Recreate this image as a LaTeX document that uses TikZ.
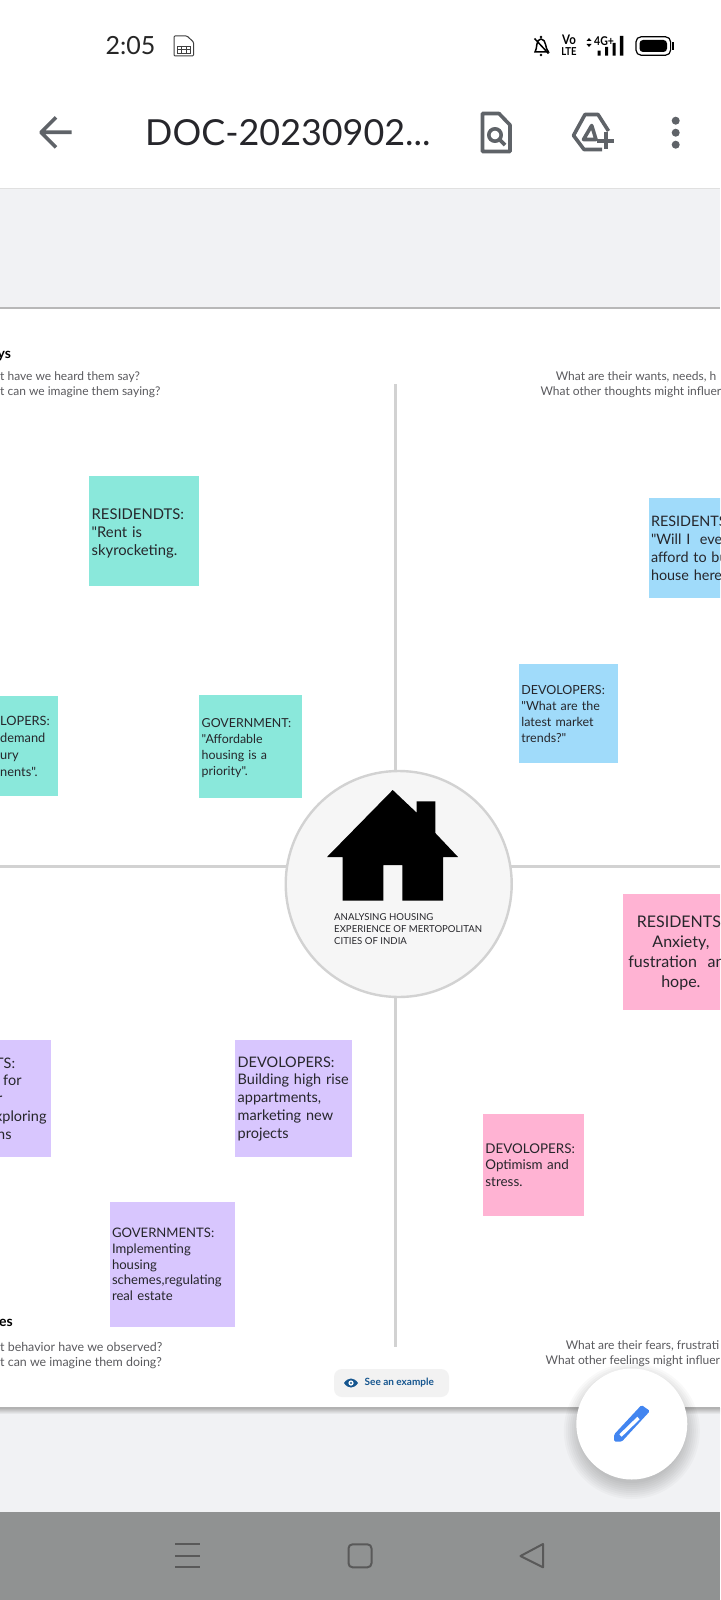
\documentclass[tikz,border=0pt]{standalone}
\usepackage{fontspec}
\setmainfont{Lato}
\newfontfamily\latofont{Lato}
\usetikzlibrary{positioning,calc}
\definecolor{pagebg}{HTML}{F1F2F4}
\definecolor{navbg}{HTML}{909292}
\definecolor{icongray}{HTML}{5F6368}
\definecolor{ink}{HTML}{26262B}
\definecolor{hint}{HTML}{5A5A5E}
\definecolor{axisgray}{HTML}{D2D2D2}
\definecolor{notegreen}{HTML}{8AE8DB}
\definecolor{noteblue}{HTML}{A0DBFA}
\definecolor{notepink}{HTML}{FFB3D3}
\definecolor{notepurple}{HTML}{D8C6FE}
\definecolor{penblue}{HTML}{4285F0}
\definecolor{linkblue}{HTML}{16568F}
\newcommand{\px}[2]{\latofont\fontsize{#1}{#2}\selectfont}
\newcommand{\tallglyph}[1]{\scalebox{1}[1.15]{#1}}

\begin{document}
\begin{tikzpicture}[
  x=1pt, y=-1pt,
  says/.style={rectangle, fill=notegreen, anchor=north west, inner xsep=2.5pt, inner ysep=0pt, align=left, text=ink},
  thinks/.style={rectangle, fill=noteblue, anchor=north west, inner xsep=2.5pt, inner ysep=0pt, align=left, text=ink},
  feels/.style={rectangle, fill=notepink, anchor=north west, inner xsep=2.5pt, inner ysep=0pt, align=left, text=ink},
  does/.style={rectangle, fill=notepurple, anchor=north west, inner xsep=2.5pt, inner ysep=0pt, align=left, text=ink},
  hinttext/.style={anchor=west, inner sep=0pt, text=hint, font=\px{12}{14}},
  headtext/.style={anchor=west, inner sep=0pt, text=black, font=\bfseries\px{14}{16}},
  axis/.style={line width=3pt, axisgray},
  icon/.style={line width=3.6pt, icongray, line join=round},
  navicon/.style={line width=2pt, black!65, line join=round}
]
\useasboundingbox (0,0) rectangle (720,1600);
\clip (0,0) rectangle (720,1600);

% Screen bands
\fill[white] (0,0) rectangle (720,1600);
\fill[pagebg] (0,189) rectangle (720,1512);
\fill[navbg] (0,1512) rectangle (720,1600);
\fill[white] (0,308) rectangle (720,1408);
\draw[black!28, line width=1.2pt] (0,308) -- (720,308);
\draw[black!12, line width=1pt] (0,188.5) -- (720,188.5);
\shade[top color=black!30, bottom color=pagebg] (0,1408) rectangle (720,1414);
\draw[black!30, line width=1.4pt] (0,1408) -- (720,1408);

% Status bar
\node[anchor=west, inner sep=0pt, font=\px{25}{28}, text=black!85] (clock) at (105.5,46) {2:05};
\draw[line width=1pt, black!75, rounded corners=1pt] (174,36) -- (187,36) -- (193.5,42) -- (193.5,56) -- (174,56) -- cycle;
\draw[line width=.7pt, black!75] (177,46) rectangle (190,53) (177,49.5) -- (190,49.5) (181.5,46) -- (181.5,53) (186,46) -- (186,53);
\draw[line width=1.5pt, black] (535,52) .. controls (537.5,49) and (535.5,39) .. (541,39) .. controls (546.5,39) and (545,49) .. (548.5,52) -- cycle;
\draw[line width=1.5pt, black] (534.5,38.5) -- (548.5,53.5);
\fill[black] (541,37) circle (1.4) (541,55) circle (1.4);
\node[inner sep=0pt, font=\bfseries\px{11.5}{12}] (vo) at (569,40) {\tallglyph{Vo}};
\node[inner sep=0pt, font=\bfseries\px{9.5}{10}] (lte) at (569,51.5) {\tallglyph{LTE}};
\fill[black] (586.5,41) -- (589,38) -- (591.5,41) -- cycle (586.5,44) -- (589,47) -- (591.5,44) -- cycle;
\node[anchor=west, inner sep=0pt, font=\bfseries\px{10.5}{11}] (net) at (594,41) {\tallglyph{4G+}};
\fill[black] (597.5,50.7) rectangle (600.5,55.7) (605.2,47) rectangle (608.2,55.7) (612.5,43) rectangle (615.5,55.7) (619.8,36) rectangle (623.3,55.7);
\draw[line width=1.2pt, black, rounded corners=5pt] (636,36.8) rectangle (670.6,55.2);
\fill[black, rounded corners=3.5pt] (639.5,40) rectangle (667,52);
\fill[black] (672,42) rectangle (674,50);

% Title bar
\draw[icon] (71.7,132.3) -- (41,132.3) (56,117.3) -- (41,132.3) -- (56,147.3);
\node[anchor=west, inner sep=0pt, font=\px{35.9}{38}, text=ink] (title) at (145,133) {DOC-20230902...};
\draw[icon] (499,113.5) -- (482.5,113.5) -- (482.5,151.5) -- (510,151.5) -- (510,125) -- cycle;
\draw[icon] (495,135) circle (6.2) (499.5,139.5) -- (505,145);
\draw[icon] (608.5,131) -- (598,114.5) -- (585,114.5) -- (573.5,135.5) -- (584,149.5) -- (602,149.5);
\draw[icon] (591.7,125.5) -- (583.5,139.5) -- (596,139.5) -- cycle;
\draw[icon] (597,140.7) -- (614,140.7) (605.7,132) -- (605.7,149);
\fill[icongray] (675.7,120.7) circle (4) (675.7,132.7) circle (4) (675.7,144.7) circle (4);

% Quadrant axes
\coordinate (top) at (395.6,384);
\coordinate (bottom) at (395.6,1347);
\coordinate (west) at (0,866);
\coordinate (east) at (720,866);
\draw[axis] (top) -- (bottom);
\draw[axis] (west) -- (east);

% Centre circle and house
\node[circle, draw=axisgray, fill=black!3.5, line width=2.4pt, minimum size=226pt, inner sep=0pt] (hub) at (398.7,884) {};
\fill[black] (392.7,790) -- (416.7,812.7) -- (416.7,801.3) -- (435.3,801.3) -- (435.3,833) -- (458,857) -- (443,857) -- (443,900.7) -- (402.3,900.7) -- (402.3,865) -- (383.3,865) -- (383.3,900.7) -- (342.7,900.7) -- (342.7,857) -- (327,857) -- cycle;
\node[anchor=north west, inner sep=0pt, align=left, text=ink, font=\px{9.6}{12}] (hubtext) at (334,913) {ANALYSING HOUSING\\EXPERIENCE OF MERTOPOLITAN\\CITIES OF INDIA};

% Says (top left)
\node[headtext] (sayshead) at (-2.5,356) {ys};
\node[hinttext] (says1) at (0,377) {t have we heard them say?};
\node[hinttext] (says2) at (0,392) {t can we imagine them saying?};
\node[says, text width=105pt, minimum height=110.5pt, font=\px{14.8}{18}] (sayres) at (89,475.5) {\rule{0pt}{15pt}RESIDENDTS:\\"Rent is\\skyrocketing.};
\node[says, text width=55.2pt, minimum height=100pt, font=\px{12.8}{17}] (saydev) at (-2.5,696) {LOPERS:\\demand\\ury\\nents".};
\node[says, text width=97.7pt, minimum height=102.7pt, font=\px{12.4}{16}] (saygov) at (199,695) {\rule{0pt}{13pt}GOVERNMENT:\\"Affordable\\housing is a\\priority".};

% Thinks (top right)
\node[hinttext] (thinks1) at (555.6,377) {What are their wants, needs, h};
\node[hinttext] (thinks2) at (540.4,392) {What other thoughts might influer};
\node[thinks, text width=100pt, minimum height=99.7pt, font=\px{14.4}{18}] (thinkres) at (648.3,498) {RESIDENTS\\"Will I\ \ ever\\afford to bu\\house here};
\node[thinks, text width=94pt, minimum height=99pt, font=\px{12.5}{16}] (thinkdev) at (518.7,664) {DEVOLOPERS:\\"What are the\\latest market\\trends?"};

% Feels (bottom right)
\node[feels, align=center, text width=111pt, minimum height=116pt, font=\px{16}{20}] (feelres) at (622.7,893.3) {\rule{0pt}{14pt}RESIDENTS:\\Anxiety,\\fustration\ \ and\\hope.};
\node[feels, text width=96pt, minimum height=101.5pt, font=\px{13.4}{16.5}] (feeldev) at (482.7,1114.2) {DEVOLOPERS:\\Optimism and\\stress.};
\node[hinttext] (feels1) at (565.6,1346) {What are their fears, frustrati};
\node[hinttext] (feels2) at (545.5,1361) {What other feelings might influer};

% Does (bottom left)
\node[does, text width=48.2pt, minimum height=116.7pt, font=\px{14.5}{17.8}] (dores) at (-2.5,1040) {\hspace*{-5pt}TS:\\\hspace*{3pt}for\\\hspace*{-3pt}r\\\hspace*{-5pt}xploring\\\hspace*{-3pt}ns};
\node[does, text width=111.7pt, minimum height=117pt, font=\px{14.5}{17.8}] (dodev) at (235,1040) {DEVOLOPERS:\\Building high rise\\appartments,\\marketing new\\projects};
\node[does, text width=120.3pt, minimum height=125pt, font=\px{13.1}{15.7}] (dogov) at (109.3,1201.7) {GOVERNMENTS:\\Implementing\\housing\\schemes,regulating\\real estate};
\node[headtext] (doeshead) at (-1,1322.7) {es};
\node[hinttext, font=\px{12.4}{14}] (does1) at (0,1347) {t behavior have we observed?};
\node[hinttext, font=\px{12.4}{14}] (does2) at (0,1363) {t can we imagine them doing?};

% Example button
\fill[black!5, rounded corners=8pt] (334,1369) rectangle (449,1397);
\node[anchor=west, inner sep=0pt, text=linkblue, font=\bfseries\px{10}{12}] (example) at (364.5,1383) {See an example};
\fill[linkblue] (344,1383) .. controls (348,1377) and (354,1377) .. (358,1383) .. controls (354,1389) and (348,1389) .. (344,1383) -- cycle;
\fill[white] (351,1383) circle (2.6);
\fill[linkblue] (351,1383) circle (1.2);

% Edit button
\foreach \r in {52,54,...,68}
  \fill[black, opacity=.025] (631.8,1431) circle (\r);
\node[circle, fill=white, minimum size=111pt, inner sep=0pt] (fab) at (631.8,1424) {};
\fill[penblue, rounded corners=1.5pt] (641.5,1405) -- (650,1411) -- (621.7,1441.7) -- (614,1441.7) -- (614,1434.5) -- cycle;
\draw[white, line width=3.4pt] (620.5,1435.5) -- (638.5,1418);

% Navigation bar
\draw[navicon] (175.4,1544) -- (200,1544) (175.4,1556) -- (200,1556) (175.4,1567.3) -- (200,1567.3);
\draw[navicon, rounded corners=4pt] (348.5,1544.3) rectangle (371.5,1567.3);
\draw[navicon] (543,1544) -- (520.5,1556) -- (543,1567.3) -- cycle;

\end{tikzpicture}
\end{document}
